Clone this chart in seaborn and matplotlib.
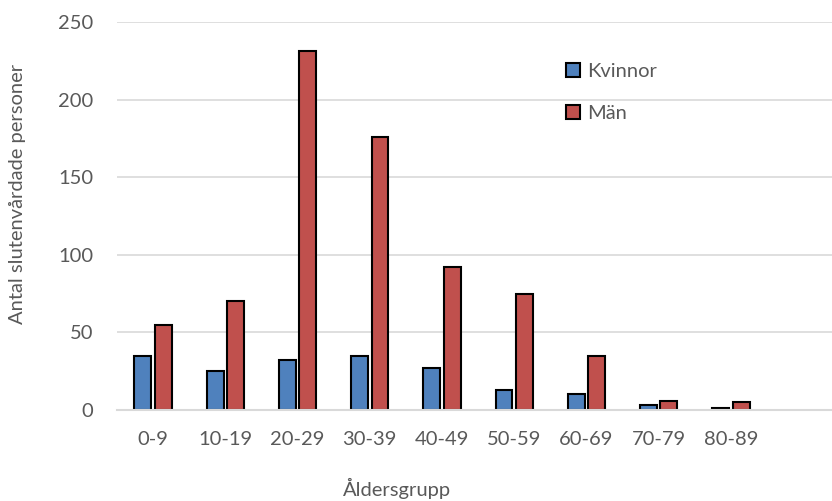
import matplotlib
matplotlib.use("Agg")
import matplotlib.pyplot as plt
import seaborn as sns
import pandas as pd

# ---- Data ----
age_groups = ["0-9", "10-19", "20-29", "30-39", "40-49", "50-59", "60-69", "70-79", "80-89"]
kvinnor = [35, 25, 32, 35, 27, 13, 10, 3, 1]
man = [55, 70, 231, 176, 92, 75, 35, 6, 5]

df = pd.DataFrame({
    "Åldersgrupp": age_groups * 2,
    "Antal": kvinnor + man,
    "Kön": ["Kvinnor"] * len(age_groups) + ["Män"] * len(age_groups),
})

# ---- Plot ----
sns.set_style("white")
plt.rcParams["font.family"] = ["Lato", "DejaVu Sans"]
FS = 14.5

fig = plt.figure(figsize=(8.32, 5.01), dpi=100)
ax = fig.add_axes([117 / 832, 1 - 410 / 501, 715 / 832, 388 / 501])

sns.barplot(data=df, x="Åldersgrupp", y="Antal", hue="Kön",
            palette={"Kvinnor": "#4F81BD", "Män": "#C0504D"},
            width=0.565, gap=0.17, edgecolor="black", linewidth=1.5,
            saturation=1, ax=ax)

ax.set_ylim(0, 250)
ax.set_xlim(-0.5, 9.4)
ax.set_yticks([0, 50, 100, 150, 200, 250])
ax.yaxis.grid(True, color="#D9D9D9", linewidth=1.2)
ax.set_axisbelow(True)
for side in ["top", "right", "left"]:
    ax.spines[side].set_visible(False)
ax.spines["bottom"].set_color("#D9D9D9")
ax.spines["bottom"].set_linewidth(1.5)
ax.tick_params(axis="y", length=0, pad=17, labelsize=FS, labelcolor="#595959")
ax.tick_params(axis="x", length=0, pad=15, labelsize=FS, labelcolor="#595959")
ax.set_xlabel("")
ax.set_ylabel("")

fig.text(18 / 832, 1 - 194 / 501, "Antal slutenvårdade personer", rotation=90,
         ha="center", va="center", fontsize=FS, color="#595959")
fig.text(397 / 832, 1 - 488 / 501, "Åldersgrupp", ha="center", va="center",
         fontsize=FS, color="#595959")

handles, labels = ax.get_legend_handles_labels()
ax.legend(handles, labels, loc="upper left", bbox_to_anchor=(566 / 832, 1 - 63 / 501),
          bbox_transform=fig.transFigure, frameon=False, fontsize=FS,
          handlelength=0.7, handleheight=0.7, handletextpad=0.35,
          labelspacing=1.25, borderpad=0, borderaxespad=0, labelcolor="#595959")

plt.savefig("out.png", dpi=100)
